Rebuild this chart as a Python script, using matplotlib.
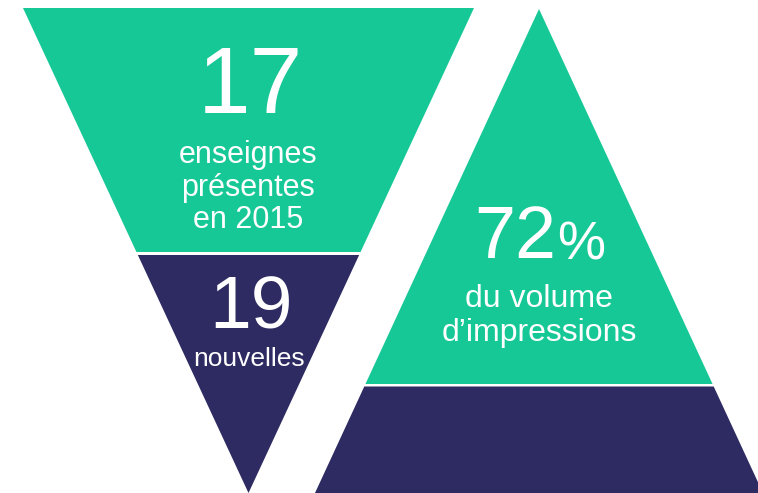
import matplotlib
matplotlib.use("Agg")
import matplotlib.pyplot as plt
from matplotlib.patches import Polygon

# ---- data / labels ----
left_numbers = ["17", "19"]
left_labels = [["enseignes", "présentes", "en 2015"], ["nouvelles"]]
right_number = "72"
right_unit = "%"
right_labels = ["du volume", "d’impressions"]

GREEN = "#17C897"
NAVY = "#2E2B62"
FONT = "Liberation Sans"

W, H = 758, 493
fig = plt.figure(figsize=(W / 100, H / 100), dpi=100)
ax = fig.add_axes([0, 0, 1, 1])
ax.set_xlim(0, W)
ax.set_ylim(H, 0)
ax.axis("off")


def lerp_x(p0, p1, y):
    return p0[0] + (p1[0] - p0[0]) * (y - p0[1]) / (p1[1] - p0[1])


# ---- left inverted triangle ----
tl, tr, apex = (23, 8), (474, 8), (248.5, 493)
split_top, split_bot = 252.0, 255.0
green_l = [tl, tr,
           (lerp_x(tr, apex, split_top), split_top),
           (lerp_x(tl, apex, split_top), split_top)]
navy_l = [(lerp_x(tl, apex, split_bot), split_bot),
          (lerp_x(tr, apex, split_bot), split_bot),
          apex]
ax.add_patch(Polygon(green_l, closed=True, facecolor=GREEN, edgecolor="none"))
ax.add_patch(Polygon(navy_l, closed=True, facecolor=NAVY, edgecolor="none"))

# ---- right triangle ----
rapex, bl, br = (539, 9), (315, 493), (763, 493)
rsplit_top, rsplit_bot = 384.0, 386.5
green_r = [rapex,
           (lerp_x(rapex, br, rsplit_top), rsplit_top),
           (lerp_x(rapex, bl, rsplit_top), rsplit_top)]
navy_r = [(lerp_x(rapex, bl, rsplit_bot), rsplit_bot),
          (lerp_x(rapex, br, rsplit_bot), rsplit_bot),
          br, bl]
ax.add_patch(Polygon(green_r, closed=True, facecolor=GREEN, edgecolor="none"))
ax.add_patch(Polygon(navy_r, closed=True, facecolor=NAVY, edgecolor="none"))

# ---- texts ----
kw = dict(color="white", family=FONT, va="baseline", ha="center")

ax.text(250, 113.3, left_numbers[0], fontsize=68, **kw)
for line, yb in zip(left_labels[0], [163.3, 196.0, 227.5]):
    ax.text(248, yb, line, fontsize=22, **kw)

ax.text(250.5, 328.3, left_numbers[1], fontsize=54, **kw)
ax.text(249, 366, left_labels[1][0], fontsize=19, **kw)

ax.text(556, 258.3, right_number, fontsize=53, color="white", family=FONT,
        va="baseline", ha="right")
ax.text(557, 259.5, right_unit, fontsize=39, color="white", family=FONT,
        va="baseline", ha="left")
for line, yb in zip(right_labels, [306.7, 341.0]):
    ax.text(539, yb, line, fontsize=23, **kw)

fig.savefig("out.png", dpi=100, facecolor="white")
